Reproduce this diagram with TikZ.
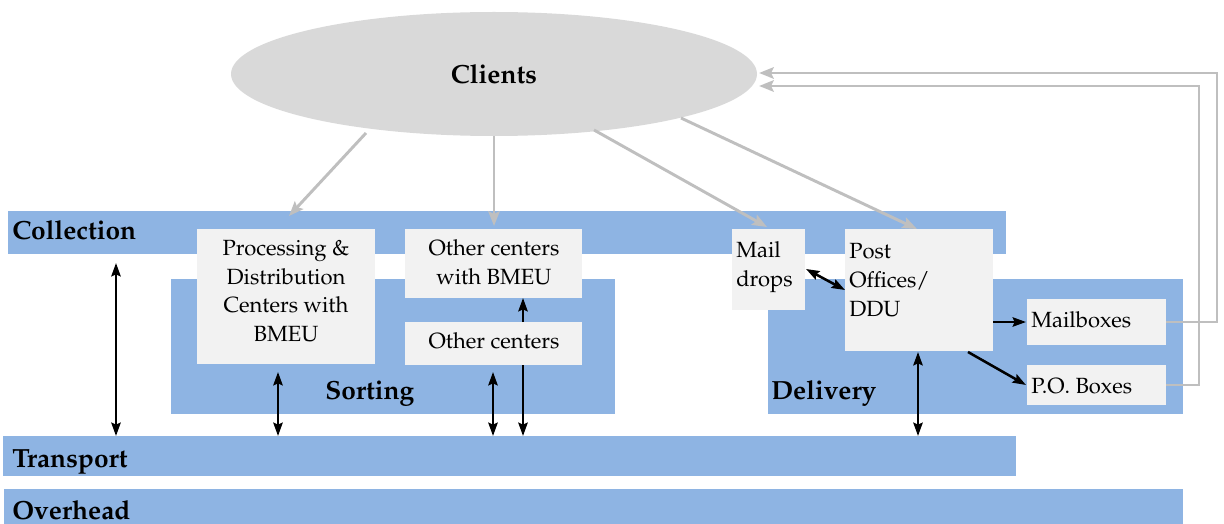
\documentclass[tikz,border=0pt]{standalone}
\usepackage[T1]{fontenc}
\usepackage{mathpazo}
\usetikzlibrary{shapes.geometric,arrows.meta,fit,calc}
\definecolor{bandc}{HTML}{8EB4E3}
\definecolor{boxc}{HTML}{F2F2F2}
\definecolor{clic}{HTML}{D9D9D9}
\definecolor{glin}{HTML}{BFBFBF}
\begin{document}
\begin{tikzpicture}[x=0.75pt,y=-0.75pt,
  bandbox/.style={fill=bandc,draw=none,inner sep=0pt},
  whitebox/.style={fill=boxc,draw=none,inner sep=0pt},
  bandlabel/.style={font=\fontsize{19.7}{23}\selectfont\bfseries,inner sep=0pt},
  bodytext/.style={font=\fontsize{16.5}{21.5}\selectfont,inner sep=0pt},
  garrow/.style={draw=glin,line width=2.2pt,-{Stealth[length=11pt,width=8.5pt,inset=2pt]}},
  barrow/.style={draw=black,line width=1.9pt,-{Stealth[length=10pt,width=7pt,inset=1.5pt]}},
  bdarrow/.style={draw=black,line width=1.9pt,{Stealth[length=10pt,width=7pt,inset=1.5pt]}-{Stealth[length=10pt,width=7pt,inset=1.5pt]}}
]
\useasboundingbox (0,0) rectangle (1224,524);
% bands
\node[bandbox,fit={(8,211) (1006,254)}] (coll) {};
\node[bandbox,fit={(171,279) (615,414)}] (sort) {};
\node[bandbox,fit={(768,279) (1183,414)}] (deliv) {};
\node[bandbox,fit={(3,436) (1016,476)}] (trans) {};
\node[bandbox,fit={(4,489) (1183,524)}] (over) {};
% band labels
\node[bandlabel,anchor=base west] (lcoll) at (12,239) {Collection};
\node[bandlabel,anchor=base west] (lsort) at (325,399) {Sorting};
\node[bandlabel,anchor=base west] (ldeliv) at (771,399) {Delivery};
\node[bandlabel,anchor=base west] (ltrans) at (12,467) {Transport};
\node[bandlabel,anchor=base west] (lover) at (12,519) {Overhead};
% clients
\node[ellipse,fill=clic,draw=none,minimum width=394.5pt,minimum height=93pt,inner sep=0pt] (cl) at (494,74) {};
\node[bandlabel,anchor=base] (lcl) at (494,84) {Clients};
% boxes
\node[whitebox,fit={(197,229) (375,364)}] (pd) {};
\node[whitebox,fit={(405,229) (582,298)}] (ocb) {};
\node[whitebox,fit={(405,322) (582,365)}] (oc) {};
\node[whitebox,fit={(732,229) (805,310)}] (md) {};
\node[whitebox,fit={(845,229) (993,351)}] (po) {};
\node[whitebox,fit={(1027,299) (1166,345)}] (mb) {};
\node[whitebox,fit={(1027,365) (1166,405)}] (pob) {};
% box texts
\node[bodytext,align=center] (tpd) at (286,291) {Processing \&\\Distribution\\Centers with\\BMEU};
\node[bodytext,align=center] (tocb) at (494,262) {Other centers\\with BMEU};
\node[bodytext] (toc) at (494,341) {Other centers};
\node[bodytext,align=left,anchor=west] (tmd) at (736,267) {Mail\\drops};
\node[bodytext,align=left,anchor=west] (tpo) at (849,280) {Post\\Offices/\\DDU};
\node[bodytext,anchor=west] (tmb) at (1031,320) {Mailboxes};
\node[bodytext,anchor=west] (tpob) at (1031,386) {P.O. Boxes};
% grey arrows from clients
\coordinate (e1) at (289,216);
\coordinate (e2) at (494,226);
\coordinate (e3) at (767,227);
\coordinate (e4) at (917,229);
\coordinate (s1) at (366,133);
\coordinate (s3) at (594,130);
\coordinate (s4) at (681,118);
\draw[garrow] (s1) -- (e1);
\draw[garrow] (cl.south) -- (e2);
\draw[garrow] (s3) -- (e3);
\draw[garrow] (s4) -- (e4);
% feedback lines
\coordinate (f1) at (759,73);
\coordinate (f2) at (759,86);
\coordinate (k1a) at (1217,322);
\coordinate (k1b) at (1217,73);
\coordinate (k2a) at (1199,385);
\coordinate (k2b) at (1199,86);
\draw[garrow] (mb.east) -- (k1a) -- (k1b) -- (f1);
\draw[garrow] (pob.east) -- (k2a) -- (k2b) -- (f2);
% black arrows
\coordinate (a1t) at (116,263);
\coordinate (a1b) at (116,436);
\coordinate (a2t) at (278,372);
\coordinate (a2b) at (278,436);
\coordinate (a3t) at (493,372);
\coordinate (a3b) at (493,436);
\coordinate (a4t) at (523,298);
\coordinate (a4m) at (523,322);
\coordinate (a5t) at (523,365);
\coordinate (a5b) at (523,436);
\coordinate (a6t) at (918,352);
\coordinate (a6b) at (918,436);
\coordinate (a7a) at (806,269);
\coordinate (a7b) at (845,290);
\coordinate (a8a) at (993,322);
\coordinate (a8b) at (1026,322);
\coordinate (a9a) at (968,352);
\coordinate (a9b) at (1026,385);
\draw[bdarrow] (a1t) -- (a1b);
\draw[bdarrow] (a2t) -- (a2b);
\draw[bdarrow] (a3t) -- (a3b);
\draw[barrow] (a4m) -- (a4t);
\draw[barrow] (a5t) -- (a5b);
\draw[bdarrow] (a6t) -- (a6b);
\draw[bdarrow] (a7a) -- (a7b);
\draw[barrow] (a8a) -- (a8b);
\draw[barrow] (a9a) -- (a9b);
\end{tikzpicture}
\end{document}
